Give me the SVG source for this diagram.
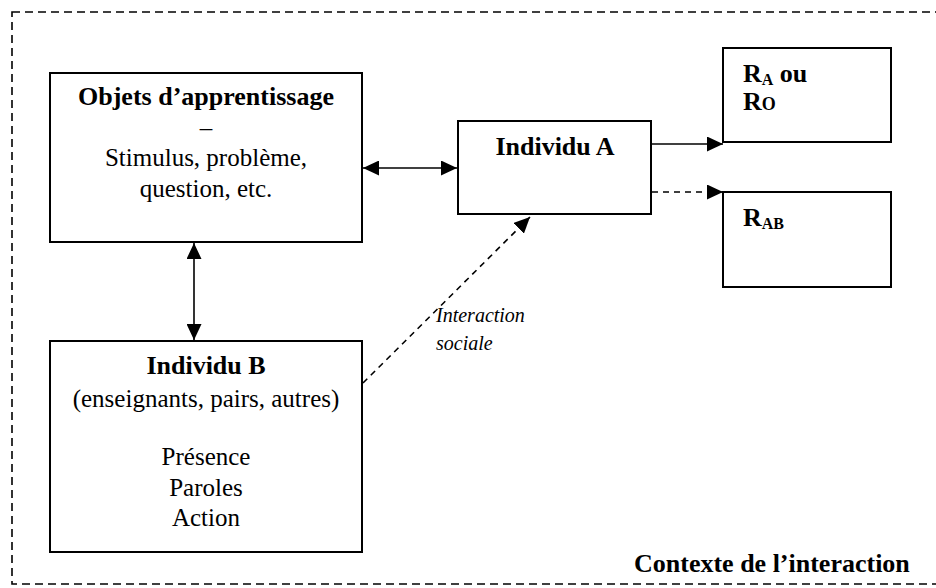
<svg xmlns="http://www.w3.org/2000/svg" width="936" height="588" viewBox="0 0 936 588">
  <style>
    .box { fill: #ffffff; stroke: #000000; stroke-width: 2; }
    .t { font-family: "Liberation Serif", "Times New Roman", serif; font-size: 25px; fill: #000000; }
    .b { font-weight: bold; font-size: 26px; }
    .i { font-style: italic; font-size: 20px; }
    .c { text-anchor: middle; }
    .ln { stroke: #000000; stroke-width: 1.6; fill: none; }
    .dash { stroke-dasharray: 6 5; }
    .frame { fill: none; stroke: #000000; stroke-width: 1.6; stroke-dasharray: 8 5; }
  </style>
  <defs>
    <marker id="ah" markerUnits="userSpaceOnUse" markerWidth="16" markerHeight="15" refX="16" refY="7.5" orient="auto-start-reverse" viewBox="0 0 16 15">
      <path d="M0,0 L16,7.5 L0,15 z" fill="#000000" stroke="none"/>
    </marker>
  </defs>

  <rect id="contexte-frame" class="frame" x="12" y="12" width="932" height="572"/>

  <g id="connectors">
    <line class="ln" x1="363" y1="168" x2="457" y2="168" marker-start="url(#ah)" marker-end="url(#ah)"/>
    <line class="ln" x1="194" y1="243" x2="194" y2="340" marker-start="url(#ah)" marker-end="url(#ah)"/>
    <line class="ln" x1="652" y1="144" x2="723" y2="144" marker-end="url(#ah)"/>
    <line class="ln dash" x1="652" y1="192" x2="723" y2="192" marker-end="url(#ah)"/>
    <line class="ln dash" x1="363" y1="383" x2="530" y2="217" marker-end="url(#ah)"/>
  </g>

  <g id="objets">
    <rect class="box" x="50" y="73" width="312" height="169"/>
    <text class="t b c" x="206" y="105">Objets d’apprentissage</text>
    <text class="t c" x="206" y="136">–</text>
    <text class="t c" x="206" y="166">Stimulus, problème,</text>
    <text class="t c" x="206" y="197">question, etc.</text>
  </g>

  <g id="individu-a">
    <rect class="box" x="458" y="121" width="193" height="93"/>
    <text class="t b c" x="555" y="155">Individu A</text>
  </g>

  <g id="ra-ro">
    <rect class="box" x="723" y="48" width="168" height="94"/>
    <text class="t b" x="743" y="82">R<tspan font-size="16" dy="3">A</tspan><tspan dy="-3"> ou</tspan></text>
    <text class="t b" x="743" y="110">R<tspan font-size="18">O</tspan></text>
  </g>

  <g id="rab">
    <rect class="box" x="723" y="192" width="168" height="95"/>
    <text class="t b" x="743" y="226">R<tspan font-size="16" dy="3">AB</tspan></text>
  </g>

  <g id="individu-b">
    <rect class="box" x="50" y="341" width="312" height="211"/>
    <text class="t b c" x="206" y="374">Individu B</text>
    <text class="t c" x="206" y="407">(enseignants, pairs, autres)</text>
    <text class="t c" x="206" y="465">Présence</text>
    <text class="t c" x="206" y="496">Paroles</text>
    <text class="t c" x="206" y="526">Action</text>
  </g>

  <g id="label-interaction">
    <text class="t i" x="436" y="322">Interaction</text>
    <text class="t i" x="436" y="350">sociale</text>
  </g>

  <g id="label-contexte">
    <text class="t b" x="634" y="572">Contexte de l’interaction</text>
  </g>
</svg>
